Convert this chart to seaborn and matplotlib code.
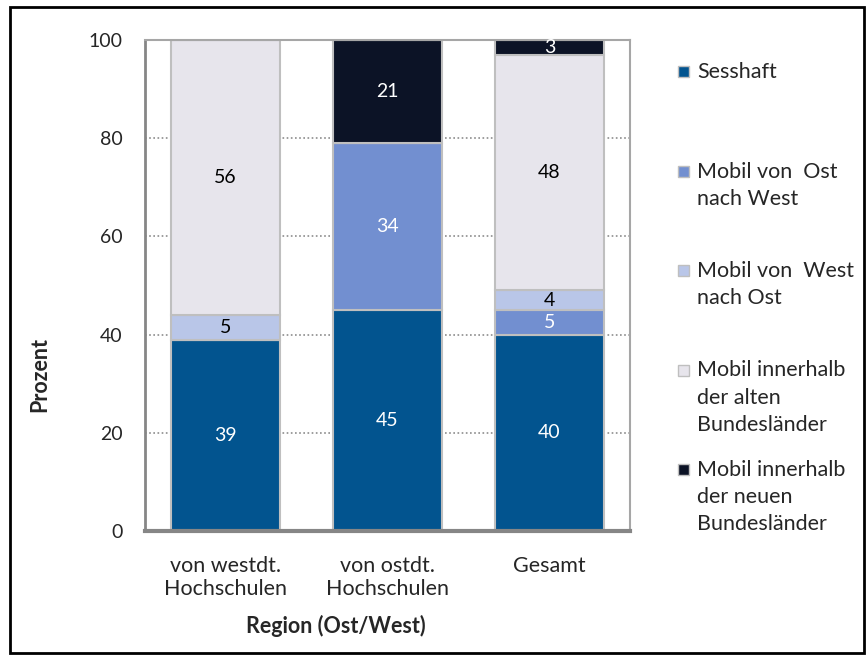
import numpy as np
import pandas as pd
import matplotlib.pyplot as plt
import seaborn as sns
from matplotlib.patches import Rectangle

# data
regions = ["von westdt.\nHochschulen", "von ostdt.\nHochschulen", "Gesamt"]
series = [
    "Sesshaft",
    "Mobil von  Ost\nnach West",
    "Mobil von  West\nnach Ost",
    "Mobil innerhalb\nder alten\nBundesländer",
    "Mobil innerhalb\nder neuen\nBundesländer",
]
sesshaft = [39, 45, 40]
ost_nach_west = [0, 34, 5]
west_nach_ost = [5, 0, 4]
alte_laender = [56, 0, 48]
neue_laender = [0, 21, 3]

colors = ["#02548F", "#728FD0", "#B9C6E8", "#E7E5EC", "#0C1326"]
text_colors = ["white", "white", "black", "black", "white"]

values = [sesshaft, ost_nach_west, west_nach_ost, alte_laender, neue_laender]
df = pd.DataFrame({s: v for s, v in zip(series, values)}, index=regions)

sns.set_style("white")
plt.rcParams["font.family"] = ["Lato", "DejaVu Sans"]
FS_NUM = 14
FS_TXT = 15.5

fig = plt.figure(figsize=(8.67, 6.55), dpi=100)
ax = fig.add_axes([0.167, 0.189, 0.727 - 0.167, 0.939 - 0.189])

# dotted gridlines behind bars
for y in [20, 40, 60, 80]:
    ax.axhline(y, color="#8C8C8C", linestyle=(0, (1, 1.5)), linewidth=1.2, zorder=0)

bottom = np.zeros(len(regions))
for s, c, tc in zip(series, colors, text_colors):
    vals = df[s].values
    sns.barplot(x=list(df.index), y=vals, bottom=bottom, color=c, saturation=1,
                width=0.67, edgecolor="#BFBFBF", linewidth=1.5, errorbar=None,
                ax=ax, zorder=2)
    for i, v in enumerate(vals):
        if v > 0:
            ax.text(i, bottom[i] + v / 2, str(v), ha="center", va="center",
                    color=tc, fontsize=FS_NUM, zorder=3)
    bottom = bottom + vals

ax.set_xlim(-0.5, 2.5)
ax.set_ylim(0, 100)
ax.set_yticks([0, 20, 40, 60, 80, 100])

for side in ["top", "right"]:
    ax.spines[side].set_color("#A6A6A6")
    ax.spines[side].set_linewidth(1.5)
ax.spines["left"].set_color("#868686")
ax.spines["left"].set_linewidth(2)
ax.spines["bottom"].set_color("#868686")
ax.spines["bottom"].set_linewidth(3)
ax.spines["bottom"].set_zorder(4)

ax.tick_params(axis="y", length=6, width=1.5, color="#868686", pad=10, labelsize=FS_NUM)
ax.tick_params(axis="x", length=0, pad=18, labelsize=FS_TXT)
for lab in ax.get_xticklabels():
    lab.set_linespacing(1.15)

ax.set_xlabel("Region (Ost/West)", fontsize=FS_TXT, fontweight="bold")
ax.set_ylabel("Prozent", fontsize=FS_TXT, fontweight="bold")
ax.xaxis.label.set_va("center")
ax.yaxis.label.set_va("center")
ax.xaxis.set_label_coords(0.394, -0.193)
ax.yaxis.set_label_coords(-0.216, 0.32)

# legend drawn by hand so that the handle lines up with the first text line
W, H = 867, 655
y0 = 71
for k, (s, c) in enumerate(zip(series, colors)):
    yc = y0 + k * 99.5
    fig.add_artist(Rectangle((678 / W, 1 - (yc + 6) / H), 11 / W, 11 / H,
                             transform=fig.transFigure, facecolor=c,
                             edgecolor="#BFBFBF", linewidth=1))
    fig.text(697 / W, 1 - (yc - 9) / H, s, ha="left", va="top",
             fontsize=FS_TXT, linespacing=1.45)

# outer frame
fig.add_artist(Rectangle((10 / W, 0.003), 1 - 10 / W - 0.004, 1 - 7 / H - 0.003,
                         transform=fig.transFigure, fill=False,
                         edgecolor="black", linewidth=2))

fig.savefig("out.png", dpi=100)
